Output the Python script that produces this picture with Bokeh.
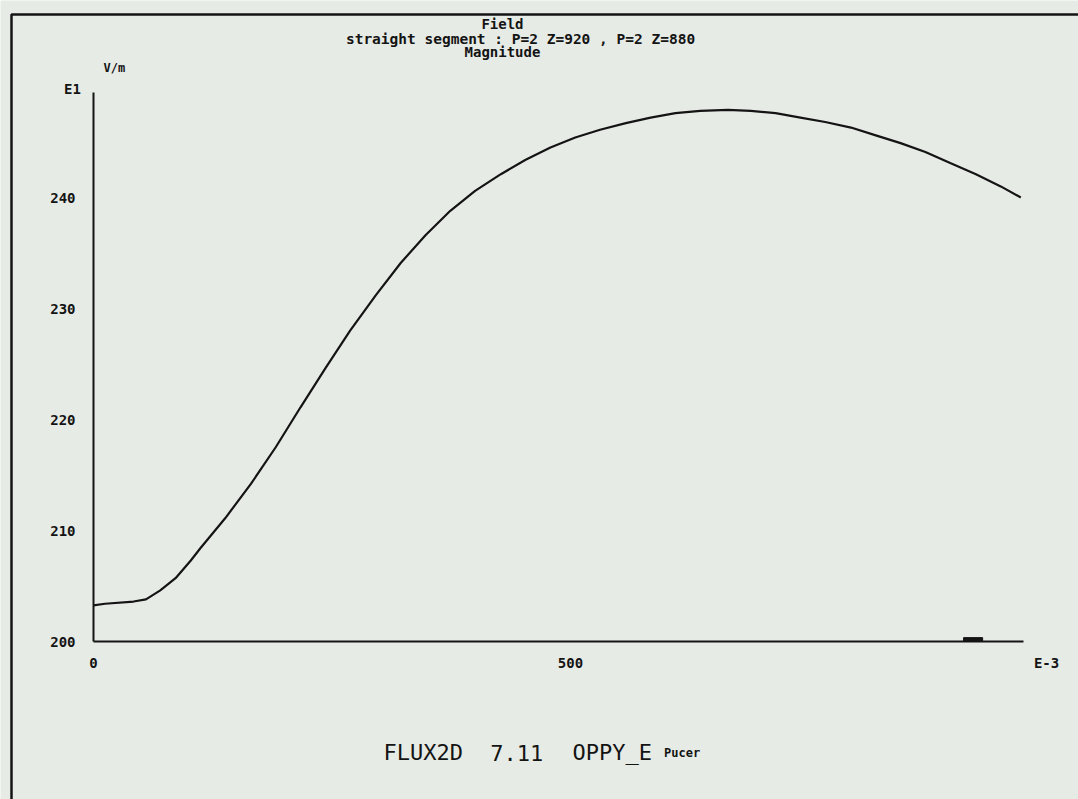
from bokeh.plotting import figure
from bokeh.models import FixedTicker, Range1d
from bokeh.core.properties import value
from bokeh.embed import file_html
from bokeh.resources import INLINE

# ---- data ----
distance = [0, 12, 42, 55, 70, 86, 102, 112, 138, 165, 191, 217, 243, 269, 296, 322,
            348, 374, 400, 427, 453, 479, 505, 531, 558, 584, 610, 636, 665, 689, 715,
            741, 767, 794, 820, 846, 872, 898, 925, 951, 972]
field = [203.25, 203.4, 203.6, 203.8, 204.6, 205.7, 207.3, 208.4, 211.1, 214.2, 217.5,
         221.1, 224.6, 228.0, 231.2, 234.1, 236.6, 238.8, 240.6, 242.1, 243.4, 244.5,
         245.4, 246.1, 246.7, 247.2, 247.6, 247.8, 247.9, 247.8, 247.6, 247.2, 246.8,
         246.3, 245.6, 244.9, 244.1, 243.1, 242.1, 241.0, 240.0]
y_ticks = [200, 210, 220, 230, 240]
x_ticks = [0, 500]
x_axis_end = 975
y_axis_end = 249.5
marker_left = [912]
marker_right = [932]
marker_top = [200.35]

title_lines = ["Field", "straight segment : P=2 Z=920 , P=2 Z=880", "Magnitude"]
y_unit = "V/m"
y_exp = "E1"
x_exp = "E-3"
footer_parts = ["FLUX2D", "7.11", "OPPY_E"]
footer_user = "Pucer"

# ---- layout / style ----
BG = "#e7ebe6"
INK = "#141414"
MONO = "DejaVu Sans Mono"
W, H = 1078, 799
X0_PX, PX_PER_X = 93, 0.954      # pixel of x=0, pixels per x unit
Y0_PX, PX_PER_Y = 641, 11.1      # pixel of y=200, pixels per y unit

x_range = Range1d(-X0_PX / PX_PER_X, (W - X0_PX) / PX_PER_X)
y_range = Range1d(200 - (H - Y0_PX) / PX_PER_Y, 200 + Y0_PX / PX_PER_Y)

p = figure(width=W, height=H, x_range=x_range, y_range=y_range,
           output_backend="svg", toolbar_location=None,
           min_border=0, min_border_left=0, min_border_right=0,
           min_border_top=0, min_border_bottom=0,
           background_fill_color=BG, border_fill_color=BG, outline_line_color=None)
p.grid.visible = False

for ax in (p.xaxis[0], p.yaxis[0]):
    ax.axis_line_width = 2
    ax.axis_line_color = INK
    ax.major_tick_line_color = None
    ax.minor_tick_line_color = None
    ax.major_label_text_font = MONO
    ax.major_label_text_font_style = "bold"
    ax.major_label_text_font_size = "14px"
    ax.major_label_text_color = INK
p.xaxis.ticker = FixedTicker(ticks=x_ticks)
p.yaxis.ticker = FixedTicker(ticks=y_ticks)
p.xaxis.fixed_location = 200
p.yaxis.fixed_location = 0
p.xaxis.bounds = (0, x_axis_end)
p.yaxis.bounds = (200, y_axis_end)
p.xaxis.major_label_standoff = 10
p.yaxis.major_label_standoff = 12

# sheet frame (top and left border of the printed sheet)
sheet_x = [(11 - X0_PX) / PX_PER_X, (11 - X0_PX) / PX_PER_X, (W + 20 - X0_PX) / PX_PER_X]
sheet_y = [200 - (H + 20 - Y0_PX) / PX_PER_Y, 200 + (Y0_PX - 14) / PX_PER_Y,
           200 + (Y0_PX - 14) / PX_PER_Y]
p.line(sheet_x, sheet_y, line_color=INK, line_width=2.5)

p.line(distance, field, line_color=INK, line_width=2.2)
p.quad(left=marker_left, right=marker_right, bottom=[200] * len(marker_left), top=marker_top,
       fill_color=INK, line_color=INK, line_width=1)

def txt(x, y, s, size, align="center", bold=True):
    p.text(x=[x], y=[y], text=[s], text_align=align, text_baseline="middle",
           text_font=value(MONO), text_font_size=size,
           text_font_style="bold" if bold else "normal", text_color=INK)

title_x = [428.7, 447.6, 428.7]
title_y = [255.6, 254.3, 253.1]
title_size = ["14px", "14.5px", "14px"]
for t, tx, ty, ts in zip(title_lines, title_x, title_y, title_size):
    txt(tx, ty, t, ts)

txt(10.5, 251.7, y_unit, "12px", align="left")
txt(-22, 249.8, y_exp, "14px")
txt(999, 198.1, x_exp, "14px")
footer_x = [304, 416, 502]
for s, fx in zip(footer_parts, footer_x):
    txt(fx, 190.0, s, "22px", align="left", bold=False)
txt(598, 190.0, footer_user, "12px", align="left")

html = file_html(p, INLINE)
open("out.html", "w").write(html)
